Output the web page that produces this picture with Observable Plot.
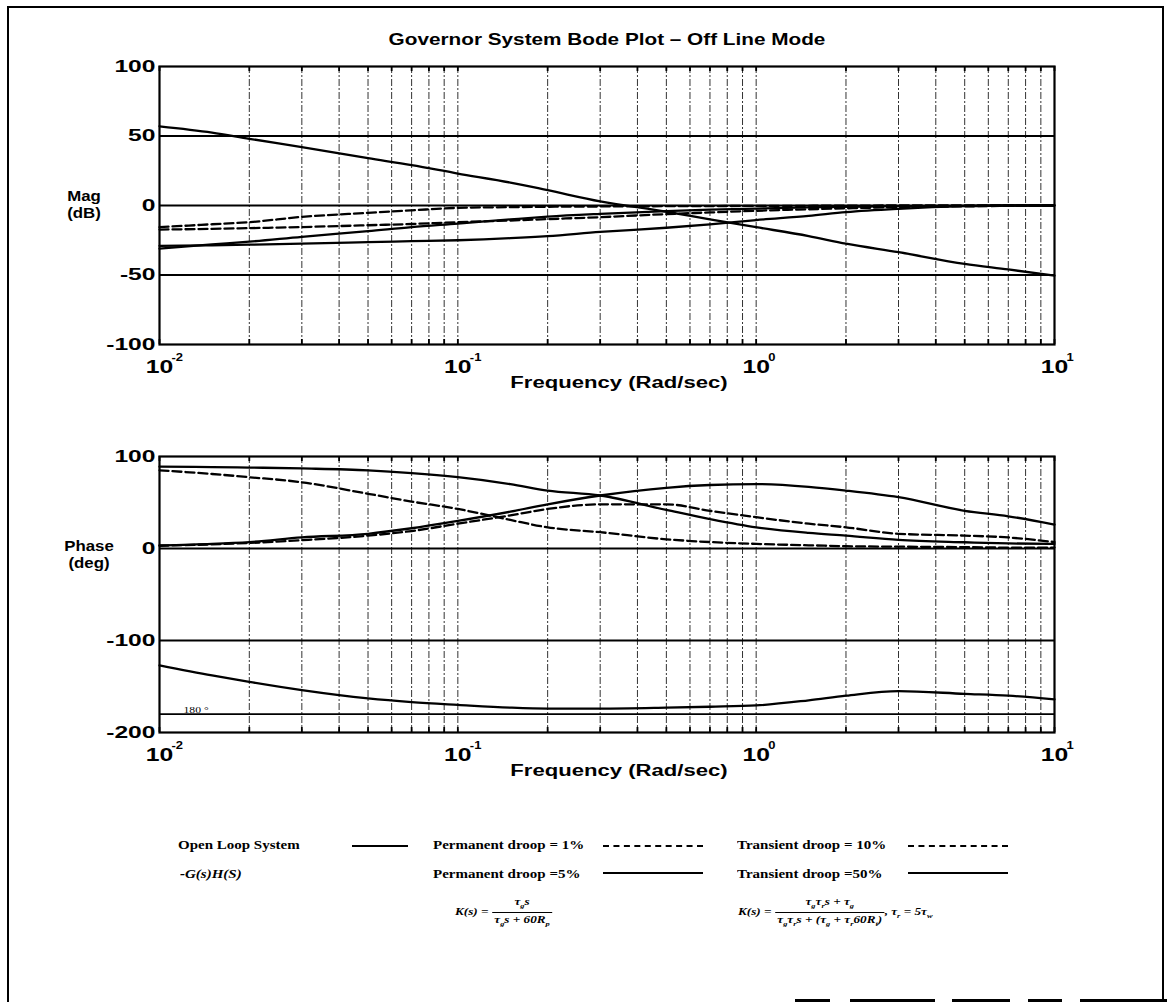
<!DOCTYPE html>
<html><head><meta charset="utf-8">
<script src="https://cdn.jsdelivr.net/npm/d3@7"></script>
<script src="https://cdn.jsdelivr.net/npm/@observablehq/plot@0.6"></script>
<style>
body{margin:0;background:#fff;}
#fig{position:relative;width:1167px;height:1006px;overflow:hidden;background:#fff;font-family:Arial,"Liberation Sans",sans-serif;color:#000;}
.abs{position:absolute;white-space:nowrap;}
.ttl{font-weight:bold;font-size:17px;transform:translateX(-50%) scaleX(1.22);}
.side{font-weight:bold;font-size:14px;text-align:center;line-height:17px;transform:translateX(-50%) scaleX(1.2);}
.leg{font-family:"Liberation Serif","Times New Roman",serif;font-weight:bold;font-size:12px;transform-origin:0 50%;transform:scaleX(1.25);}
.ln{position:absolute;height:0;border-top:2px solid #000;}
.ln.d{border-top:2px dashed #000;}
.seg{position:absolute;height:3px;background:#000;}
.frac{display:inline-block;vertical-align:middle;text-align:center;}
.frac span{display:block;padding:0 2px;line-height:12px;}
.frac .num{border-bottom:1px solid #000;}
.fm{font-family:"Liberation Serif","Times New Roman",serif;font-style:italic;font-weight:bold;font-size:11px;transform-origin:0 50%;transform:scaleX(1.2);}
.fm sub{font-size:7px;}
</style></head><body><div id="fig"></div>
<script>
// ---- data ----
const freq = [0.01,0.015,0.02,0.03,0.05,0.07,0.1,0.15,0.2,0.3,0.5,0.7,1,1.5,2,3,5,7,10];
// magnitude (dB)
const magOpenLoop = [57,52.5,48,42,34,29,23,16.5,11,3,-4.5,-10,-15.6,-22,-27.5,-33.6,-42,-46,-50.5];
const magPerm1    = [-15.6,-13.5,-12,-8.2,-5.3,-3.5,-1.7,-1.2,-0.9,-0.7,-0.5,-0.4,-0.3,-0.2,-0.1,0,0,0,0];
const magPerm5    = [-31,-28,-26,-22.5,-18.5,-15.5,-13,-10,-8,-6,-4,-3,-2.2,-1.4,-1,-0.5,-0.2,0,0];
const magTrans10  = [-17.3,-16.8,-16.3,-15.5,-14.2,-13.3,-12,-10.8,-9.8,-8.4,-6.2,-5,-3.8,-2.7,-2,-1.2,-0.6,-0.3,-0.2];
const magTrans50  = [-29,-28.6,-28.2,-27.5,-26.4,-25.7,-25,-23.5,-22,-19,-16,-13.6,-10.5,-7.5,-4.8,-2.4,-0.5,0,0];
// phase (deg)
const phOpenLoop = [-127,-138,-145,-154,-163,-167,-170,-173,-174,-174,-173,-172,-170.6,-165,-160,-155,-158,-160,-164];
const phPerm1    = [85,81,77.5,72,59.5,51,43,31,23,17.7,10,7,5,3.5,2.5,2,1.5,1,1];
const phPerm5    = [89,88.5,88,87,85,82,77.5,70,63,57.6,42,32,23,17,14,9.4,6.8,5.5,5];
const phTrans10  = [3,4.5,6,9,14,19,27,36,43,48,48,41,34,27,23,16,14,12,7];
const phTrans50  = [3.3,5,7,12,16,22,30,40,48,57.6,66,69,70,67,63,55.8,41,35,26];
// axes
const gridFreqs = d3.range(-2,1).flatMap(e => d3.range(1,10).map(k => k*10**e)).concat([10]);
const decades = [0.01,0.1,1,10];
const decadeExp = ["-2","-1","0","1"];
const magTicks = [100,50,0,-50,-100];
const magGrid = [50,0,-50];
const phTicks = [100,0,-100,-200];
const phGrid = [0,-100,-180];

const series = [
  {name:"Open Loop System -G(s)H(S)", mag: magOpenLoop, ph: phOpenLoop, dash: null},
  {name:"Permanent droop = 1%", mag: magPerm1, ph: phPerm1, dash: "9,4"},
  {name:"Permanent droop = 5%", mag: magPerm5, ph: phPerm5, dash: null},
  {name:"Transient droop = 10%", mag: magTrans10, ph: phTrans10, dash: "9,4"},
  {name:"Transient droop = 50%", mag: magTrans50, ph: phTrans50, dash: null}
];

function stretchText(svg){
  d3.select(svg).selectAll("text").each(function(){
    const t = this.getAttribute("transform");
    const g = this.closest("g");
    const isY = g && (g.getAttribute("aria-label") || "").startsWith("y-axis");
    const sx = isY ? 1.45 : 1.3;
    if (t) this.setAttribute("transform", t + ` scale(${sx},1)`);
  });
  return svg;
}

function bode({key, domain, ticks, grid, top, height, mt, mb, extra}) {
  const inner = height - mt - mb;
  const marks = [
    Plot.ruleX(gridFreqs, {stroke:"#333", strokeWidth:1, strokeDasharray:"7,2,2,2"}),
    Plot.tickX(gridFreqs, {x: d => d, stroke:"#000", strokeWidth:1.8, insetBottom: inner - 5}),
    Plot.tickX(gridFreqs, {x: d => d, stroke:"#000", strokeWidth:1.8, insetTop: inner - 5}),
    Plot.ruleY(grid, {stroke:"#000", strokeWidth:1.8}),
    ...series.map(s => Plot.line(freq, {x: d => d, y: (d,i) => s[key][i], stroke:"#000", strokeWidth:2.3, strokeDasharray: s.dash, curve:"monotone-x"})),
    Plot.frame({stroke:"#000", strokeWidth:2.2}),
    Plot.axisY({ticks, tickSize:0, tickPadding:4, fontSize:17, fontWeight:"bold", tickFormat: d => String(d), label:null}),
    Plot.axisX({ticks: decades, tickSize:0, tickPadding:15, fontSize:19, fontWeight:"bold", tickFormat: () => "10", label:null}),
    Plot.text(decades, {x: d => d, frameAnchor:"bottom", dy:16, dx:12, textAnchor:"start", text:(d,i)=>decadeExp[i], fontSize:10, fontWeight:"bold"}),
    Plot.text(["Frequency (Rad/sec)"], {frameAnchor:"bottom", dy:43, dx:12, text: d => d, fontSize:17, fontWeight:"bold"}),
    ...(extra || [])
  ];
  const svg = Plot.plot({
    width:1167, height, marginLeft:159, marginRight:113, marginTop:mt, marginBottom:mb,
    x:{type:"log", domain:[0.01,10], axis:null},
    y:{domain, axis:null},
    style:{background:"transparent", fontFamily:"Arial, 'Liberation Sans', sans-serif", color:"#000", overflow:"visible"},
    marks
  });
  stretchText(svg);
  svg.style.position = "absolute"; svg.style.left = "0px"; svg.style.top = top + "px";
  return svg;
}

const fig = document.getElementById("fig");
fig.appendChild(bode({key:"mag", domain:[-100,100], ticks:magTicks, grid:magGrid, top:0, height:400, mt:66, mb:56}));
fig.appendChild(bode({key:"ph", domain:[-200,100], ticks:phTicks, grid:phGrid, top:390, height:400, mt:66, mb:58,
  extra:[Plot.text(["180 °"], {frameAnchor:"left", y: -180, dx:24, dy:-4, text:d=>d, fontSize:9, fontFamily:"'Liberation Serif', serif", textAnchor:"start"})]}));

function addDiv(cls, html, x, y, extraStyle){
  const d = document.createElement("div");
  d.className = "abs " + cls; d.innerHTML = html;
  d.style.left = x + "px"; d.style.top = y + "px";
  if (extraStyle) d.setAttribute("style", d.getAttribute("style") + ";" + extraStyle);
  fig.appendChild(d); return d;
}
// outer frame
addDiv("", "", 7, 6, "width:1153px;height:994px;border-left:2px solid #000;border-top:2px solid #000;border-right:2px solid #000;");
[[795,35],[850,85],[952,58],[1028,34],[1080,87]].forEach(([x,w]) => addDiv("seg", "", x, 999, `width:${w}px`));

addDiv("ttl", "Governor System Bode Plot – Off Line Mode", 607, 30);
addDiv("side", "Mag<br>(dB)", 84, 188);
addDiv("side", "Phase<br>(deg)", 89, 538);

// legend
const legRows = [
  [{t:"Open Loop System", x:178, y:838}, {t:"Permanent droop = 1%", x:433, y:838}, {t:"Transient droop = 10%", x:737, y:838}],
  [{t:"<i>-G(s)H(S)</i>", x:180, y:867}, {t:"Permanent droop =5%", x:433, y:867}, {t:"Transient droop =50%", x:737, y:867}]
];
legRows.flat().forEach(o => addDiv("leg", o.t, o.x, o.y));
const legLines = [
  {x:352, w:56, y:845, dash:false}, {x:603, w:100, y:845, dash:true}, {x:908, w:100, y:845, dash:true},
  {x:603, w:100, y:872, dash:false}, {x:908, w:100, y:872, dash:false}
];
legLines.forEach(l => { const d = document.createElement("div"); d.className = "ln" + (l.dash ? " d" : ""); d.style.left = l.x+"px"; d.style.top = l.y+"px"; d.style.width = l.w+"px"; fig.appendChild(d); });

addDiv("fm", 'K(s) = <span class="frac"><span class="num">τ<sub>g</sub>s</span><span>τ<sub>g</sub>s + 60R<sub>p</sub></span></span>', 455, 895);
addDiv("fm", 'K(s) = <span class="frac"><span class="num">τ<sub>g</sub>τ<sub>r</sub>s + τ<sub>g</sub></span><span>τ<sub>g</sub>τ<sub>r</sub>s + (τ<sub>g</sub> + τ<sub>r</sub>60R<sub>t</sub>)</span></span>, τ<sub>r</sub> = 5τ<sub>w</sub>', 738, 895);
</script></body></html>
